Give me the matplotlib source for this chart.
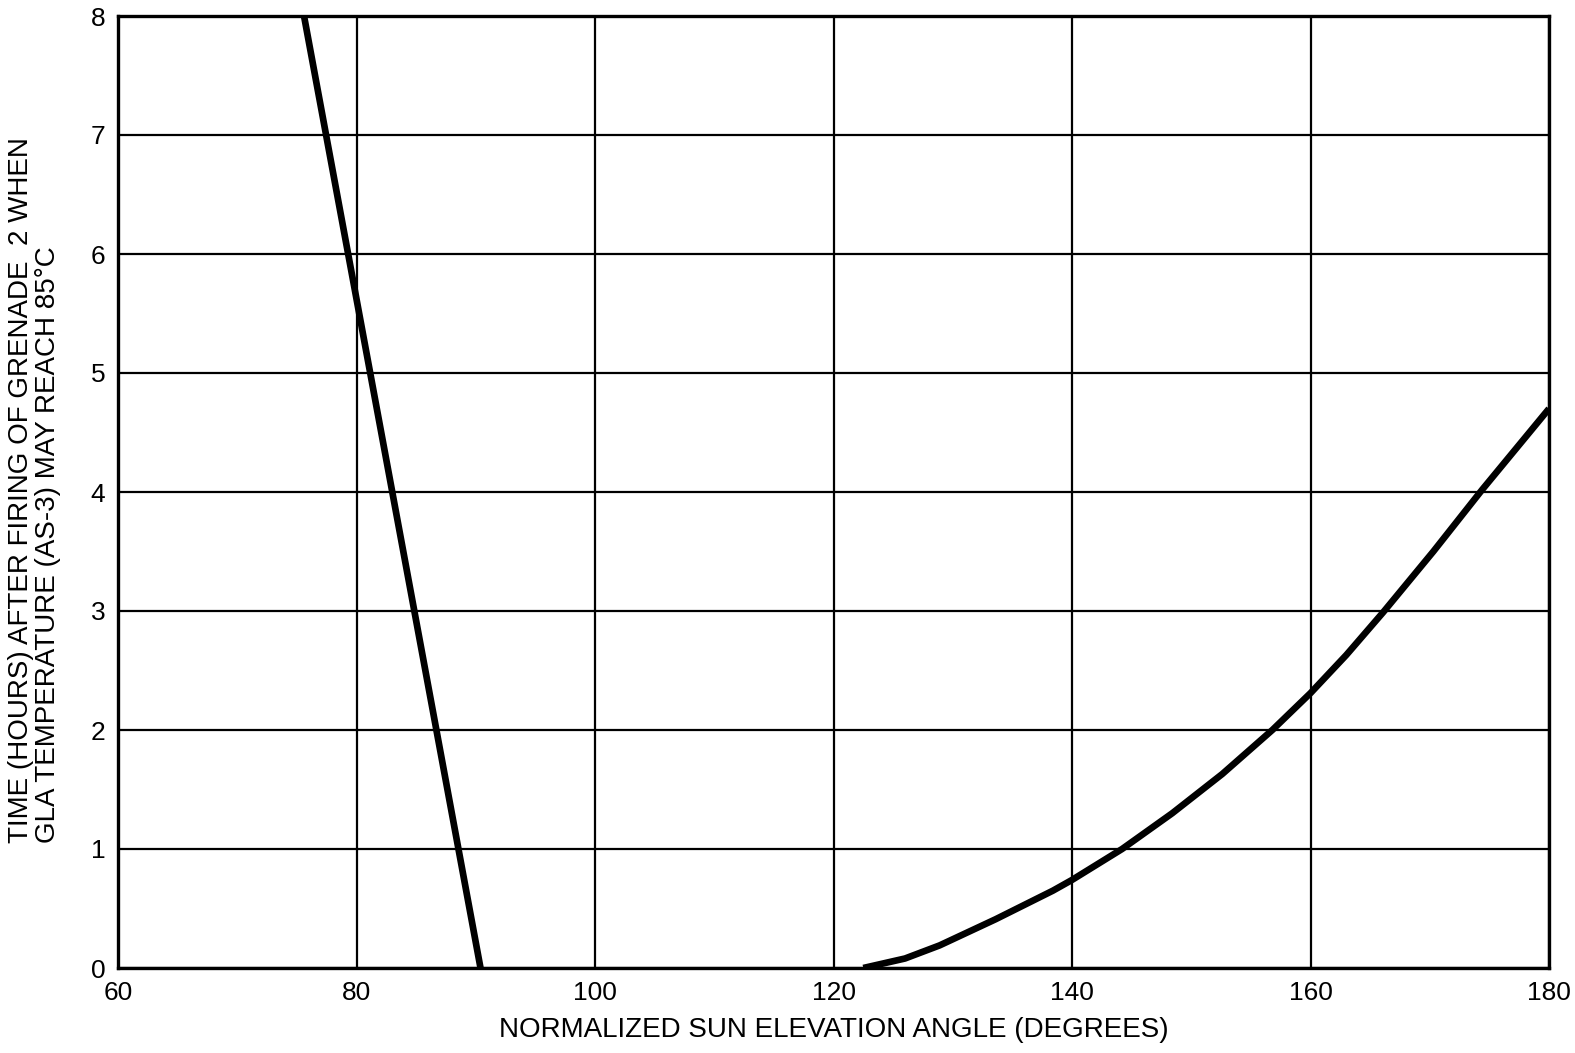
import matplotlib
matplotlib.use("Agg")
import matplotlib.pyplot as plt

plt.rcParams['font.family'] = ['Liberation Sans', 'DejaVu Sans']

# Line 1 (steep descending line)
line1_x = [75.6, 90.4]
line1_y = [8.0, 0.0]

# Curve 2 (rising curve)
curve2_x = [122.5, 126.0, 128.9, 133.6, 138.4, 140.0, 144.2, 148.4, 152.6, 156.8, 160.0, 163.0, 166.1, 170.3, 174.4, 180.0]
curve2_y = [0.0, 0.08, 0.19, 0.41, 0.65, 0.74, 1.0, 1.3, 1.63, 2.0, 2.31, 2.63, 2.99, 3.5, 4.02, 4.7]

x_ticks = [60, 80, 100, 120, 140, 160, 180]
y_ticks = [0, 1, 2, 3, 4, 5, 6, 7, 8]

xlabel = "NORMALIZED SUN ELEVATION ANGLE (DEGREES)"
ylabel = "TIME (HOURS) AFTER FIRING OF GRENADE  2 WHEN\nGLA TEMPERATURE (AS-3) MAY REACH 85°C"

fig = plt.figure(figsize=(15.75, 10.53), dpi=100)
ax = fig.add_axes([118/1575, 1 - 968/1053, (1549 - 118)/1575, (968 - 16)/1053])

ax.plot(line1_x, line1_y, color='black', lw=4.8, solid_capstyle='butt', zorder=3)
ax.plot(curve2_x, curve2_y, color='black', lw=4.8, solid_capstyle='butt',
        solid_joinstyle='round', zorder=3)

ax.set_xlim(60, 180)
ax.set_ylim(0, 8)
ax.set_xticks(x_ticks)
ax.set_yticks(y_ticks)
ax.tick_params(length=0, labelsize=19, colors='black')
ax.tick_params(axis='x', pad=9)
ax.tick_params(axis='y', pad=9)
ax.grid(True, color='black', lw=1.6)
for s in ax.spines.values():
    s.set_linewidth(2.4)
    s.set_color('black')

fig.text((118 + 1549) / 2 / 1575, 1 - 1030 / 1053, xlabel, ha='center', va='center', fontsize=20)
fig.text(8 / 1575, 1 - 843 / 1053, ylabel, rotation=90, ha='left', va='bottom',
         multialignment='left', fontsize=20, linespacing=1.05)

fig.savefig("out.png", dpi=100, facecolor='white')
